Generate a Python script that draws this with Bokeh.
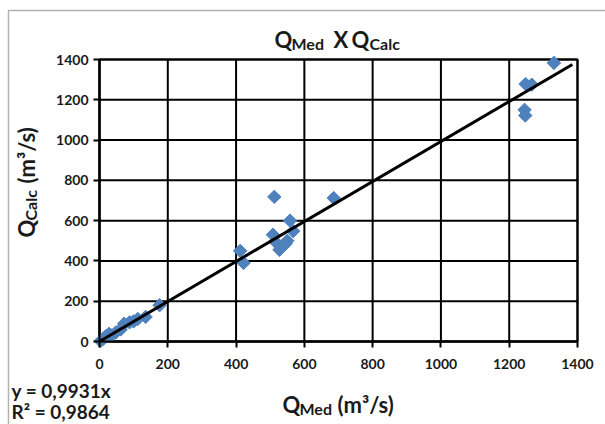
import numpy as np
from bokeh.plotting import figure
from bokeh.models import Range1d, FixedTicker, Label, BoxAnnotation, ColumnDataSource
from bokeh.embed import file_html
from bokeh.resources import INLINE

# ---- data ----
q_med = [3, 10, 18, 28, 35, 48, 62, 72, 88, 100, 112, 135, 176,
         412, 422, 512, 508, 558, 527, 545, 567, 515, 535, 550, 686,
         1248, 1266, 1331, 1245, 1247]
q_calc = [2, 12, 25, 38, 30, 45, 60, 88, 95, 100, 112, 122, 180,
          450, 390, 718, 530, 600, 455, 485, 548, 495, 470, 500, 712,
          1278, 1275, 1383, 1150, 1122]
trend_slope = 0.9931
trend_x = [0, 1385]
trend_y = [trend_slope * v for v in trend_x]
tick_values = [0, 200, 400, 600, 800, 1000, 1200, 1400]
eq_text = "y = 0,9931x"
r2_text = "R\u00b2 = 0,9864"

FONT = "Lato"
TXT = "#1a1a1a"
W, H = 605, 424
# plot area in canvas pixels
PL, PR, PT, PB = 99, 577, 59, 341
AX_MIN, AX_MAX = 0, 1400
kx = (AX_MAX - AX_MIN) / (PR - PL)
ky = (AX_MAX - AX_MIN) / (PB - PT)

p = figure(width=W, height=H, output_backend="svg", toolbar_location=None,
           x_range=Range1d(AX_MIN - PL * kx, AX_MAX + (W - PR) * kx),
           y_range=Range1d(AX_MIN - (H - PB) * ky, AX_MAX + PT * ky),
           min_border=0)
p.background_fill_color = "white"
p.border_fill_color = "white"
p.outline_line_color = None
p.xgrid.visible = False
p.ygrid.visible = False

for ax in (p.xaxis[0], p.yaxis[0]):
    ax.fixed_location = 0
    ax.bounds = (AX_MIN, AX_MAX)
    ax.ticker = FixedTicker(ticks=tick_values)
    ax.axis_line_color = "black"
    ax.axis_line_width = 2
    ax.major_tick_line_color = "black"
    ax.major_tick_line_width = 2
    ax.major_tick_out = 6
    ax.major_tick_in = 0
    ax.minor_tick_line_color = None
    ax.major_label_text_font = FONT
    ax.major_label_text_font_style = "bold"
    ax.major_label_text_font_size = "14px"
    ax.major_label_text_color = TXT
p.xaxis.major_label_standoff = 11
p.yaxis.major_label_standoff = 5

# grid lines at the tick values
p.segment(x0=tick_values, y0=[AX_MIN] * len(tick_values), x1=tick_values,
          y1=[AX_MAX] * len(tick_values), line_color="black", line_width=2)
p.segment(x0=[AX_MIN] * len(tick_values), y0=tick_values, x1=[AX_MAX] * len(tick_values),
          y1=tick_values, line_color="black", line_width=2)
p.quad(left=[AX_MIN], right=[AX_MAX], bottom=[AX_MIN], top=[AX_MAX],
       fill_color=None, line_color="black", line_width=2)

src = ColumnDataSource(dict(x=q_med, y=q_calc))
p.scatter("x", "y", source=src, marker="square", angle=np.pi / 4, size=9.5,
          fill_color="#4F81BD", line_color="#4F81BD")
p.line(trend_x, trend_y, line_color="black", line_width=3)

def lab(text, px, py, size, angle=0, align="left", baseline="alphabetic"):
    p.add_layout(Label(x=px, y=H - py, x_units="screen", y_units="screen",
                       text=text, text_font=FONT, text_font_style="bold",
                       text_font_size=f"{size}px", text_color=TXT,
                       angle=angle, text_align=align, text_baseline=baseline))

BIG, SUB = 22, 16
# title  Q_Med X Q_Calc
lab("Q", 274, 39, BIG)
lab("Med", 291, 43, SUB)
lab("X", 333, 39, BIG)
lab("Q", 351, 39, BIG)
lab("Calc", 369, 43, SUB)

# x axis label  Q_Med (m3/s)
lab("Q", 282, 404, BIG)
lab("Med", 299, 408, SUB)
lab("(m\u00b3/s)", 337, 404, BIG)

# y axis label (rotated)
lab("Q", 26, 237, BIG, angle=np.pi / 2)
lab("Calc", 30, 220, SUB, angle=np.pi / 2)
lab("(m\u00b3/s)", 26, 183, BIG, angle=np.pi / 2)

# equation
lab(eq_text, 11, 390, 19)
lab(r2_text, 11, 411, 19)

# outer chart border
p.add_layout(BoxAnnotation(left=8, right=W + 50, top=H - 10, bottom=-50,
                           left_units="screen", right_units="screen",
                           top_units="screen", bottom_units="screen",
                           fill_color=None, line_color="black", line_width=1.5))

open("out.html", "w").write(file_html(p, INLINE))
